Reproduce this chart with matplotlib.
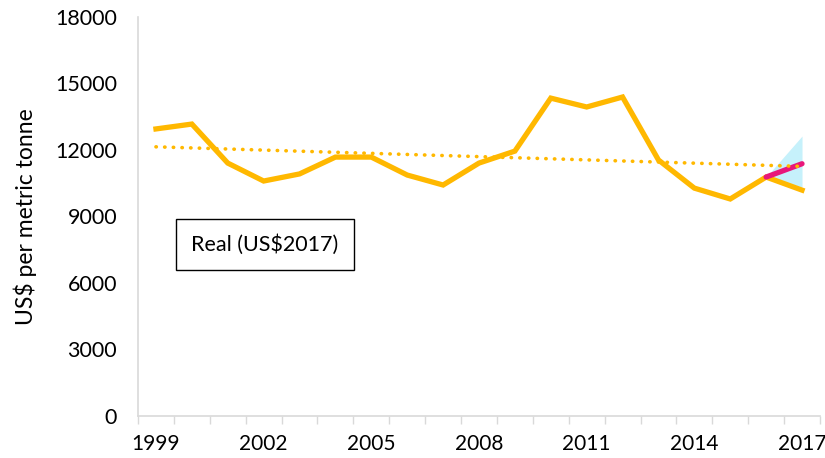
import numpy as np
import matplotlib.pyplot as plt
from matplotlib.ticker import FixedLocator

plt.rcParams['font.family'] = ['Lato', 'DejaVu Sans']

# Real price, US$2017 per metric tonne
years = list(range(1999, 2018))
price = [12950, 13170, 11410, 10600, 10920, 11680, 11680, 10870, 10420, 11410,
         11950, 14340, 13940, 14390, 11550, 10280, 9790, 10780, 10190]

# forecast segment and its band
fc_years = [2016, 2017]
fc_mid = [10780, 11380]
fc_low = [10780, 10330]
fc_high = [10780, 12630]

yticks = [0, 3000, 6000, 9000, 12000, 15000, 18000]
xlabels = [1999, 2002, 2005, 2008, 2011, 2014, 2017]

orange = '#ffb800'
pink = '#e8177a'
cyan = '#c6f1fb'
grey = '#d9d9d9'

x = np.arange(len(years))
fx = [years.index(y) for y in fc_years]

# linear trend over the whole series (as the spreadsheet trendline)
k, b = np.polyfit(x, price, 1)
trend = k * x + b

fig = plt.figure(figsize=(8.25, 4.58), dpi=100)
ax = fig.add_axes([0.1673, 0.0917, 0.8266, 0.8712])

ax.fill_between(fx, fc_low, fc_high, color=cyan, lw=0, zorder=1)
ax.plot(x, price, color=orange, lw=3.8, solid_joinstyle='miter', zorder=3)
ax.plot(fx, fc_mid, color=pink, lw=3.8, solid_capstyle='round', zorder=4)
ax.plot(x, trend, color=orange, lw=2.6, ls=(0, (0.1, 2.3)),
        dash_capstyle='round', zorder=5)

ax.set_xlim(-0.5, len(years) - 0.5)
ax.set_ylim(0, 18000)
ax.set_yticks(yticks)
ax.set_yticklabels([str(v) for v in yticks])
ax.set_xticks([years.index(y) for y in xlabels])
ax.set_xticklabels([str(v) for v in xlabels])
ax.xaxis.set_minor_locator(FixedLocator(np.arange(-0.5, len(years), 1)))
ax.tick_params(axis='x', which='major', length=0, pad=13, labelsize=15)
ax.tick_params(axis='x', which='minor', length=6, color=grey, width=1)
ax.tick_params(axis='y', length=0, pad=15, labelsize=15.5)
ax.set_ylabel('US$ per metric tonne', fontsize=16.5, labelpad=13)

for s in ('top', 'right'):
    ax.spines[s].set_visible(False)
for s in ('left', 'bottom'):
    ax.spines[s].set_color(grey)
    ax.spines[s].set_linewidth(1.2)

ax.text(0.078, 0.43, 'Real (US$2017)', transform=ax.transAxes, fontsize=15.5,
        ha='left', va='center',
        bbox=dict(boxstyle='square,pad=0.7', fc='white', ec='black', lw=1))

fig.savefig('out.png', dpi=100)
